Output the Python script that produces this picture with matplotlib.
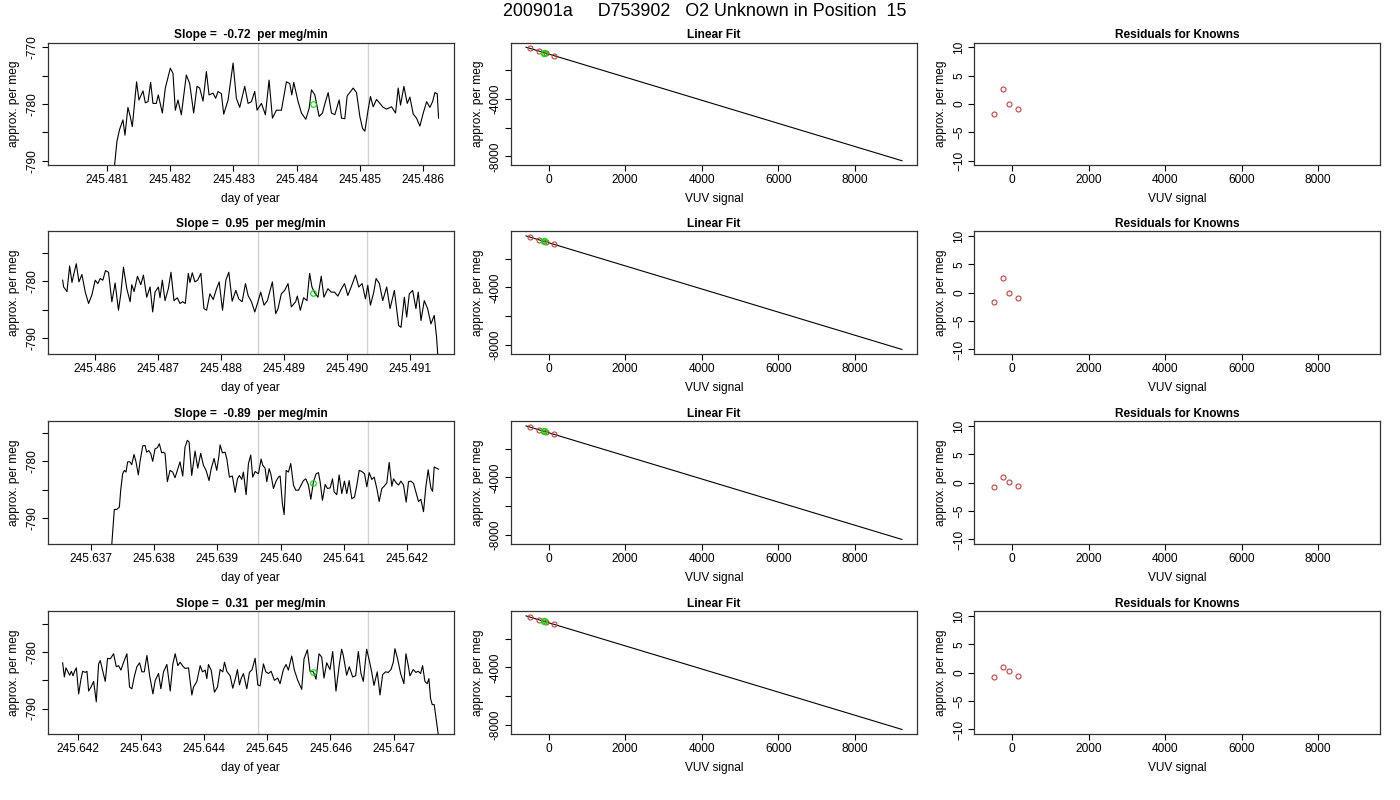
import numpy as np
import matplotlib.pyplot as plt

plt.rcParams['font.family'] = ['Liberation Sans', 'DejaVu Sans']
plt.rcParams['font.size'] = 8.6

# ---- data ----
suptitle = '200901a     D753902   O2 Unknown in Position  15'
slopes = ['-0.72', '0.95', '-0.89', '0.31']

# time series (day of year = base + offset * 1e-6), approx. per meg
t1 = 245.480 + 1e-6 * np.array([
    300, 700, 1000,
    1121, 1158, 1200, 1253, 1285, 1332, 1369, 1401, 1469, 1506,
    1570, 1607, 1649, 1691, 1728, 1781, 1812, 1876, 1923, 2002,
    2044, 2081, 2123, 2176, 2255, 2308, 2371, 2424, 2466, 2519,
    2572, 2614, 2677, 2719, 2756, 2809, 2846, 2915, 2994, 3046,
    3099, 3178, 3231, 3284, 3336, 3373, 3442, 3505, 3563, 3616,
    3679, 3758, 3837, 3890, 3922, 3953, 4022, 4075, 4143, 4196,
    4233, 4286, 4354, 4407, 4444, 4497, 4549, 4602, 4671, 4708,
    4760, 4797, 4892, 4945, 4998, 5040, 5077, 5130, 5166, 5209,
    5261, 5314, 5367, 5420, 5499, 5562, 5604, 5641, 5694, 5747,
    5789, 5842, 5894, 5947, 6000, 6053, 6105, 6147, 6184, 6221,
    6242])
v1 = np.array([
    -840, -815, -800,
    -790.8, -786.6, -784.5, -782.8, -785.5, -780.6, -782.2, -784.0, -776.1, -779.3,
    -777.7, -779.8, -779.6, -776.2, -779.9, -779.9, -778.4, -781.6, -777.2, -773.7,
    -774.6, -781.1, -779.3, -781.9, -774.9, -776.4, -781.6, -776.9, -777.2, -779.5,
    -774.3, -778.4, -778.1, -779.0, -777.8, -778.2, -781.8, -779.3, -772.8, -779.0,
    -780.6, -776.9, -779.9, -779.6, -777.8, -781.1, -779.9, -781.9, -775.8, -782.5,
    -781.1, -781.1, -776.1, -776.4, -778.4, -776.2, -779.6, -781.6, -782.7, -780.8,
    -777.5, -778.4, -782.2, -781.6, -780.0, -778.0, -781.6, -781.9, -779.3, -782.5,
    -782.6, -778.6, -777.2, -778.0, -782.2, -784.3, -784.8, -780.9, -778.7, -780.5,
    -779.2, -779.9, -780.6, -780.9, -780.5, -781.6, -777.2, -780.2, -776.9, -779.9,
    -778.8, -781.8, -782.5, -783.9, -781.6, -779.6, -780.6, -779.6, -778.0, -778.2,
    -782.5])

t2 = 245.485 + 1e-6 * np.array([
    483, 499, 552, 594, 631, 657, 699, 742, 789, 842,
    895, 947, 1000, 1042, 1079, 1121, 1163, 1211, 1264, 1316,
    1369, 1406, 1448, 1501, 1554, 1580, 1617, 1670, 1723, 1765,
    1817, 1870, 1912, 1949, 2002, 2028, 2065, 2108, 2160, 2202,
    2250, 2303, 2345, 2387, 2429, 2477, 2503, 2540, 2582, 2624,
    2677, 2725, 2767, 2820, 2872, 2925, 2967, 3020, 3073, 3120,
    3173, 3231, 3278, 3331, 3384, 3426, 3479, 3532, 3574, 3626,
    3679, 3732, 3811, 3864, 3901, 3953, 4006, 4059, 4112, 4180,
    4207, 4254, 4307, 4360, 4402, 4439, 4476, 4534, 4586, 4629,
    4692, 4745, 4797, 4850, 4903, 4956, 5008, 5061, 5130, 5182,
    5235, 5288, 5325, 5367, 5420, 5457, 5509, 5562, 5625, 5678,
    5747, 5815, 5852, 5905, 5942, 5984, 6037, 6089, 6126, 6169,
    6221, 6274, 6327, 6379, 6416, 6448])
v2 = np.array([
    -779.8, -781.0, -781.8, -777.3, -780.2, -778.9, -776.9, -780.1, -778.8, -781.9,
    -783.9, -782.4, -779.8, -780.4, -779.5, -779.8, -778.1, -778.4, -783.6, -780.3,
    -785.1, -782.2, -777.5, -781.3, -783.6, -780.6, -781.8, -779.1, -780.6, -778.9,
    -782.8, -781.0, -785.4, -781.9, -781.0, -782.9, -779.8, -783.4, -781.3, -778.4,
    -783.4, -782.9, -783.9, -783.6, -783.9, -778.6, -780.2, -778.5, -780.1, -779.8,
    -778.6, -784.8, -785.1, -782.2, -783.2, -781.3, -780.1, -785.1, -779.8, -778.4,
    -783.5, -781.6, -783.1, -783.6, -780.4, -782.5, -783.6, -785.4, -783.9, -781.9,
    -784.2, -783.4, -780.1, -785.7, -784.8, -782.2, -781.6, -780.4, -784.5, -783.6,
    -782.6, -785.1, -782.9, -783.4, -778.6, -781.0, -781.9, -782.8, -779.1, -782.8,
    -781.3, -781.9, -781.9, -782.6, -781.4, -780.4, -782.5, -781.0, -778.9, -781.0,
    -780.4, -783.1, -780.7, -784.2, -781.9, -779.5, -780.4, -783.4, -781.0, -784.8,
    -781.6, -787.8, -788.1, -782.8, -786.3, -782.2, -781.6, -784.8, -781.9, -786.9,
    -783.4, -784.8, -787.5, -786.0, -789.8, -795.0])

t3 = 245.637 + 1e-6 * np.array([
    -445, 146, 330, 372, 409, 452, 473, 504, 531, 557,
    583, 620, 647, 684, 715, 752, 778, 821, 858, 884,
    916, 947, 979, 1016, 1053, 1084, 1121, 1148, 1174, 1211,
    1253, 1295, 1332, 1369, 1411, 1454, 1490, 1527, 1554, 1596,
    1649, 1691, 1738, 1781, 1823, 1870, 1902, 1949, 1992, 2028,
    2044, 2081, 2123, 2150, 2192, 2239, 2282, 2319, 2350, 2387,
    2413, 2456, 2493, 2529, 2561, 2598, 2651, 2693, 2719, 2756,
    2783, 2820, 2846, 2888, 2930, 2967, 2994, 3030, 3057, 3089,
    3125, 3162, 3205, 3241, 3284, 3326, 3363, 3400, 3442, 3479,
    3521, 3563, 3600, 3626, 3663, 3706, 3742, 3785, 3822, 3848,
    3890, 3927, 3969, 4011, 4048, 4085, 4127, 4170, 4207, 4244,
    4286, 4328, 4365, 4402, 4444, 4481, 4523, 4560, 4602, 4639,
    4681, 4718, 4760, 4787, 4829, 4866, 4903, 4945, 4987, 5024,
    5061, 5103, 5140, 5182, 5219, 5261, 5298, 5335, 5377, 5404,
    5430, 5462, 5499])
v3 = np.array([
    -830, -812, -795, -788.5, -788.5, -788.1, -785.1, -782.2, -781.6, -781.9,
    -780.1, -780.1, -780.6, -778.8, -780.1, -782.4, -780.1, -777.3, -777.2, -778.4,
    -778.1, -778.6, -780.0, -777.8, -777.6, -776.9, -778.5, -778.4, -778.6, -783.6,
    -781.6, -781.9, -782.9, -781.6, -780.1, -782.6, -777.5, -776.3, -776.6, -782.5,
    -778.2, -781.2, -778.6, -780.7, -781.6, -783.4, -781.4, -779.5, -781.6, -778.9,
    -777.1, -778.5, -778.4, -779.5, -782.8, -782.6, -785.5, -783.1, -782.5, -783.2,
    -781.9, -785.9, -780.4, -778.9, -782.8, -781.8, -782.2, -779.6, -780.7, -781.2,
    -783.6, -781.3, -782.2, -784.8, -783.5, -782.8, -782.6, -787.5, -789.4, -781.6,
    -781.9, -780.4, -784.2, -785.1, -785.1, -784.2, -783.4, -783.1, -784.2, -786.7,
    -783.6, -782.2, -782.0, -783.6, -786.9, -784.1, -784.8, -784.7, -783.1, -785.4,
    -785.9, -782.4, -785.7, -783.5, -785.7, -783.4, -786.6, -786.3, -784.2, -781.6,
    -781.8, -782.2, -784.5, -782.0, -783.2, -782.8, -784.8, -787.1, -784.8, -784.4,
    -783.8, -780.2, -784.4, -783.1, -783.8, -784.2, -783.5, -784.2, -787.2, -783.6,
    -783.5, -783.9, -785.4, -787.1, -786.7, -788.9, -784.5, -781.5, -784.7, -785.3,
    -781.0, -781.2, -781.4])

t4 = 245.641 + 1e-6 * np.array([
    757, 784, 810, 842, 868, 895, 921, 947, 974, 1011,
    1047, 1074, 1116, 1142, 1169, 1206, 1248, 1290, 1327, 1353,
    1396, 1432, 1469, 1512, 1564, 1607, 1643, 1680, 1723, 1775,
    1817, 1854, 1891, 1933, 1976, 2013, 2050, 2092, 2134, 2187,
    2224, 2276, 2313, 2355, 2408, 2461, 2503, 2540, 2582, 2619,
    2661, 2698, 2751, 2804, 2830, 2883, 2936, 2972, 3015, 3041,
    3067, 3110, 3162, 3210, 3252, 3294, 3321, 3357, 3410, 3452,
    3500, 3526, 3558, 3584, 3621, 3674, 3716, 3758, 3806, 3848,
    3885, 3938, 3975, 4017, 4059, 4112, 4164, 4201, 4254, 4296,
    4333, 4386, 4428, 4481, 4544, 4581, 4634, 4676, 4729, 4771,
    4818, 4861, 4897, 4940, 4992, 5035, 5087, 5140, 5177, 5203,
    5256, 5298, 5351, 5399, 5441, 5483, 5520, 5573, 5615, 5652,
    5689, 5741, 5784, 5826, 5873, 5915, 5958, 5995, 6021, 6063,
    6111, 6163, 6195, 6232, 6258, 6311, 6353, 6390, 6427, 6459,
    6496, 6532, 6559, 6585, 6612, 6643, 6680, 6712])
v4 = np.array([
    -781.9, -784.4, -782.8, -783.5, -784.1, -783.4, -784.2, -783.4, -782.8, -787.4,
    -784.8, -783.4, -783.6, -783.4, -786.9, -786.2, -785.2, -788.8, -782.1, -781.5,
    -783.5, -785.2, -781.1, -781.2, -780.3, -782.6, -782.4, -783.2, -781.8, -780.3,
    -786.2, -786.5, -784.4, -782.6, -781.9, -783.5, -783.5, -780.6, -784.1, -787.4,
    -785.0, -783.8, -786.5, -783.5, -782.2, -786.9, -782.1, -780.3, -782.4, -781.8,
    -782.5, -782.9, -782.8, -787.6, -786.2, -785.2, -782.4, -783.5, -783.2, -784.7,
    -782.2, -783.2, -787.1, -786.2, -783.1, -783.5, -781.8, -783.4, -784.2, -786.4,
    -784.4, -783.1, -785.8, -784.7, -783.8, -786.5, -783.6, -783.1, -781.1, -785.8,
    -786.0, -782.1, -783.5, -783.8, -783.4, -785.0, -784.6, -785.6, -783.1, -782.2,
    -783.2, -780.7, -783.2, -785.0, -786.6, -781.2, -779.6, -783.4, -783.5, -784.8,
    -780.3, -780.9, -784.6, -781.9, -783.1, -779.9, -786.9, -782.2, -779.5, -780.6,
    -784.1, -782.6, -784.4, -784.2, -779.9, -783.8, -785.2, -779.5, -781.5, -783.5,
    -785.9, -783.5, -787.6, -784.0, -783.5, -783.6, -783.1, -781.8, -779.4, -781.2,
    -783.8, -785.6, -780.3, -782.4, -784.2, -783.1, -783.6, -783.4, -783.8, -782.4,
    -785.2, -785.6, -784.7, -788.2, -789.3, -789.3, -792.4, -795.0])

series_t = [t1, t2, t3, t4]
series_v = [v1, v2, v3, v4]
series_ylim = [(-790.8, -769.2), (-792.8, -771.2), (-794.6, -772.95), (-794.5, -772.8)]
series_yticks = [[-790, -785, -780, -775, -770], [-790, -785, -780, -775],
                 [-790, -785, -780, -775], [-790, -785, -780, -775]]
series_xticks = [[245.481, 245.482, 245.483, 245.484, 245.485, 245.486],
                 [245.486, 245.487, 245.488, 245.489, 245.490, 245.491],
                 [245.637, 245.638, 245.639, 245.640, 245.641, 245.642],
                 [245.642, 245.643, 245.644, 245.645, 245.646, 245.647]]
# gray marker lines and the green unknown point
vlines = [(245.483389, 245.485124), (245.488584, 245.490319),
          (245.639651, 245.641386), (245.644859, 245.646594)]
unk_t = [245.484259, 245.489454, 245.640521, 245.645729]
unk_v = [-780.0, -782.1, -783.8, -783.5]

# linear fit panel
known_vuv = [-480, -245, -75, 145]
known_pm = [-522, -706, -844, -1021]
unk_vuv = -130
unk_pm = -800
fit_x = np.array([-591, 9235])
fit_intercept = -904.3
fit_slope = -0.8009

# residuals for knowns, per row
resid = [[-1.7, 2.6, 0.0, -0.95],
         [-1.7, 2.6, 0.0, -0.95],
         [-0.75, 1.0, 0.05, -0.5],
         [-0.7, 1.0, 0.25, -0.55]]

RED = '#cc3f3f'
GREEN = '#00e000'

fig = plt.figure(figsize=(14, 8), dpi=100)
fig.text(0.503, 0.985, suptitle, ha='center', va='center', fontsize=12.9)

col_left = [0.034, 0.365, 0.696]
col_w = 0.290
row_bottom = [0.7934, 0.5575, 0.320, 0.0825]
row_h = 0.1533


def style(ax):
    for s in ax.spines.values():
        s.set_color('#333333')
        s.set_linewidth(0.9)
    ax.tick_params(direction='out', length=4, width=0.8, pad=2.5, colors='black')
    ax.tick_params(axis='y', labelrotation=90)
    for lab in ax.get_yticklabels():
        lab.set_va('center')
    ax.xaxis.set_label_coords(0.5, -0.275)
    ax.xaxis.label.set_va('center')
    ax.yaxis.set_label_coords(-0.082, 0.5)
    ax.yaxis.label.set_va('center')


for r in range(4):
    # time series
    ax = fig.add_axes([col_left[0], row_bottom[r], col_w, row_h])
    ax.plot(series_t[r], series_v[r], color='black', lw=0.8)
    for xv in vlines[r]:
        ax.axvline(xv, color='#d3d3d3', lw=1.0, zorder=0)
    ax.plot(unk_t[r], unk_v[r], 'o', mfc='none', mec=GREEN, ms=4, mew=0.8)
    ax.margins(x=0.04)
    ax.set_ylim(*series_ylim[r])
    ax.set_xticks(series_xticks[r], ['%.3f' % x for x in series_xticks[r]])
    ax.set_yticks(series_yticks[r],
                  [str(y) if y % 10 == 0 else '' for y in series_yticks[r]])
    ax.set_title('Slope =  %s  per meg/min' % slopes[r], fontweight='bold',
                 fontsize=8.6, pad=3)
    ax.set_xlabel('day of year')
    ax.set_ylabel('approx. per meg')
    style(ax)

    # linear fit
    ax = fig.add_axes([col_left[1], row_bottom[r], col_w, row_h])
    ax.plot(fit_x, fit_intercept + fit_slope * fit_x, color='black', lw=0.8)
    ax.plot(known_vuv, known_pm, 'o', mfc='none', mec=RED, ms=3.6, mew=0.8)
    ax.plot(unk_vuv, unk_pm, 'o', mfc='none', mec=GREEN, ms=4, mew=1.3)
    ax.margins(0.04)
    ax.set_xticks([0, 2000, 4000, 6000, 8000])
    ax.set_yticks([-8000, -6000, -4000, -2000], ['-8000', '', '-4000', ''])
    ax.set_title('Linear Fit', fontweight='bold', fontsize=8.6, pad=3)
    ax.set_xlabel('VUV signal')
    ax.set_ylabel('approx. per meg')
    style(ax)
    xlim = ax.get_xlim()

    # residuals
    ax = fig.add_axes([col_left[2], row_bottom[r], col_w, row_h])
    ax.plot(known_vuv, resid[r], 'o', mfc='none', mec=RED, ms=3.6, mew=0.8)
    ax.set_xlim(*xlim)
    ax.set_ylim(-10.8, 10.8)
    ax.set_xticks([0, 2000, 4000, 6000, 8000])
    ax.set_yticks([-10, -5, 0, 5, 10])
    ax.set_title('Residuals for Knowns', fontweight='bold', fontsize=8.6, pad=3)
    ax.set_xlabel('VUV signal')
    ax.set_ylabel('approx. per meg')
    style(ax)

fig.savefig('out.png', dpi=100)
